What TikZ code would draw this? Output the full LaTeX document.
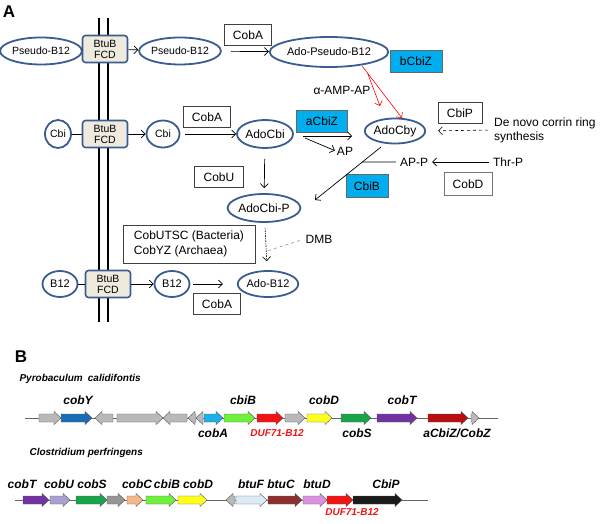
\documentclass[tikz,border=0pt]{standalone}
\usepackage{fontspec}
\setmainfont{Liberation Sans}
\usepackage{tikz}
\usetikzlibrary{shapes.geometric,arrows.meta,calc}

\definecolor{ellblue}{RGB}{58,92,145}
\definecolor{btufill}{RGB}{238,235,222}
\definecolor{cbizblue}{RGB}{0,174,239}
\definecolor{genegray}{RGB}{185,185,185}
\definecolor{genedgray}{RGB}{150,150,150}
\definecolor{cobYblue}{RGB}{27,108,180}
\definecolor{cobAcyan}{RGB}{30,174,232}
\definecolor{cbiBgreen}{RGB}{110,240,60}
\definecolor{dufred}{RGB}{240,20,20}
\definecolor{cobDyellow}{RGB}{255,255,30}
\definecolor{cobSgreen}{RGB}{26,163,74}
\definecolor{cobTpurple}{RGB}{112,51,160}
\definecolor{cbiZred}{RGB}{185,14,14}
\definecolor{cobUlav}{RGB}{169,160,207}
\definecolor{cobCpeach}{RGB}{245,184,138}
\definecolor{btuFblue}{RGB}{220,235,243}
\definecolor{btuCbrown}{RGB}{142,47,47}
\definecolor{btuDpink}{RGB}{221,144,221}
\definecolor{cbiPblack}{RGB}{26,26,26}

\tikzset{
  cpd/.style={ellipse, draw=ellblue, line width=1.8pt, inner sep=0pt, minimum height=27pt},
  smallcpd/.style={cpd, font=\fontsize{10.5}{12}\selectfont},
  btub/.style={rectangle, rounded corners=3pt, draw=ellblue, line width=1.6pt, fill=btufill,
    minimum width=45pt, minimum height=27pt, inner sep=0pt, align=center,
    font=\fontsize{10.5}{11}\selectfont},
  enz/.style={rectangle, draw=black!75, line width=0.6pt, minimum height=21pt, inner sep=2pt},
  cbiz/.style={enz, fill=cbizblue, draw=black!60},
  rxn/.style={->, line width=0.7pt},
  membrane/.style={line width=1.6pt},
  panel/.style={font=\fontsize{17}{17}\selectfont\bfseries},
  species/.style={font=\fontsize{10}{10}\selectfont\bfseries\itshape, anchor=west},
  gene/.style={draw=black!65, line width=0.4pt},
  backbone/.style={draw=black!60, line width=0.7pt},
  glabel/.style={font=\fontsize{12}{12}\selectfont\bfseries\itshape},
  duf/.style={font=\fontsize{10}{10}\selectfont\bfseries\itshape, text=dufred}
}

% gene arrows: start, end, y, colour
\newcommand{\geneR}[4]{\filldraw[gene,fill=#4] (#1,#3-4) -- (#2-7,#3-4) -- (#2-7,#3-6.5) -- (#2,#3) -- (#2-7,#3+6.5) -- (#2-7,#3+4) -- (#1,#3+4) -- cycle;}
\newcommand{\geneL}[4]{\filldraw[gene,fill=#4] (#2,#3-4) -- (#1+7,#3-4) -- (#1+7,#3-6.5) -- (#1,#3) -- (#1+7,#3+6.5) -- (#1+7,#3+4) -- (#2,#3+4) -- cycle;}

\begin{document}
\begin{tikzpicture}[x=1pt, y=-1pt, font=\fontsize{12}{14}\selectfont,
  >={Straight Barb[length=4pt,width=8pt]}]

\useasboundingbox (0,0) rectangle (600,524);

\node at (9,12) [panel] (pA) {A};

\draw[membrane] (99,18) -- (99,322);
\draw[membrane] (108,18) -- (108,322);


\node at (41,51) [smallcpd, minimum width=72pt] (ps1) {Pseudo-B12};
\node at (105,49) [btub] (btu1) {BtuB\\FCD};
\node at (180,51) [smallcpd, minimum width=70pt] (ps2) {Pseudo-B12};
\node at (248,35) [enz, minimum width=47pt] (cobA1) {CobA};
\node at (329,52) [cpd, font=\fontsize{11}{13}\selectfont, minimum width=105pt, minimum height=30pt] (aps) {Ado-Pseudo-B12};
\node at (416,61) [cbiz, minimum width=52pt, minimum height=22pt] (bcbiz) {bCbiZ};
\node at (342,90) (amp) {α-AMP-AP};

\node at (58,134) [smallcpd, minimum width=26pt, minimum height=28pt] (cbi1) {Cbi};
\node at (105,134) [btub] (btu2) {BtuB\\FCD};
\node at (163,134) [smallcpd, minimum width=33pt] (cbi2) {Cbi};
\node at (207,117) [enz, minimum width=47pt] (cobA2) {CobA};
\node at (265,134) [cpd, minimum width=56pt, minimum height=28pt] (adocbi) {AdoCbi};
\node at (322,121) [cbiz, minimum width=51pt, minimum height=22pt] (acbiz) {aCbiZ};
\node at (345,151) [inner sep=1pt] (ap) {AP};
\node at (395,131) [cpd, minimum width=56pt, minimum height=25pt] (adocby) {AdoCby};
\node at (460,113) [enz, minimum width=44pt] (cbip) {CbiP};
\node at (493,130) [anchor=west, align=left, inner sep=1pt, font=\fontsize{12}{14}\selectfont] (denovo) {De novo corrin ring\\synthesis};

\node at (414,162) [inner sep=1pt] (app) {AP-P};
\node at (508,162) [inner sep=1pt] (thrp) {Thr-P};
\node at (367,186) [cbiz, minimum width=42pt, minimum height=23pt] (cbib) {CbiB};
\node at (468,184) [enz, draw=black!55, minimum width=48pt, minimum height=23pt] (cobd) {CobD};
\node at (219,177) [enz, minimum width=49pt] (cobu) {CobU};
\node at (264,208) [cpd, minimum width=62pt, minimum height=28pt] (adocbip) {AdoCbi-P};
\node at (189,244) [enz, minimum width=132pt, minimum height=38pt, align=left, font=\fontsize{12}{15}\selectfont] (cobutsc) {CobUTSC (Bacteria)\\CobYZ (Archaea)};
\node at (319,239) [inner sep=1pt] (dmb) {DMB};

\node at (60,284) [smallcpd, font=\fontsize{11}{13}\selectfont, minimum width=35pt, minimum height=26pt] (b12a) {B12};
\node at (108,284) [btub] (btu3) {BtuB\\FCD};
\node at (172,284) [smallcpd, font=\fontsize{11}{13}\selectfont, minimum width=35pt, minimum height=26pt] (b12b) {B12};
\node at (268,284) [cpd, font=\fontsize{11}{13}\selectfont, minimum width=52pt, minimum height=26pt] (adob12) {Ado-B12};
\node at (217,304) [enz, minimum width=47pt] (cobA3) {CobA};


\draw[line width=0.7pt] (ps1) -- (btu1);
\draw[rxn] (btu1) -- (ps2);
\draw[rxn, shorten <=9pt] (ps2) -- (aps);

\coordinate (rs) at ($(aps.south)+(33,-2)$);
\coordinate (rt) at (380,106);
\draw[rxn, red, line width=0.6pt] (rs) -- (adocby.62);
\draw[rxn, red, line width=0.6pt] ($(rs)!0.14!(adocby.62)$) -- (rt);

\draw[->, dashed, line width=0.6pt, shorten <=5pt, shorten >=12pt] (denovo.west) -- (adocby.east);

\draw[line width=0.7pt] (cbi1) -- (btu2);
\draw[rxn] (btu2) -- (cbi2);
\draw[rxn, shorten <=5pt] (cbi2) -- (adocbi);

\coordinate (zs) at (303,136);
\coordinate (ze) at (352,136);
\draw[rxn] (zs) -- (ze);
\draw[rxn, shorten >=1pt] ($(zs)+(2,2)$) -- (ap.west);

\coordinate (cbst) at (381,147);
\coordinate (cbend) at (315,200);
\draw[rxn] (cbst) -- (cbend);
\draw[line width=0.7pt, shorten <=3pt] (app.west) -- ($(cbst)!0.283!(cbend)$);
\draw[rxn, shorten <=3pt, shorten >=3pt] (thrp) -- (app);

\draw[rxn, shorten <=10pt, shorten >=5pt] (adocbi) -- (adocbip);
\draw[->, line width=0.6pt, dash pattern=on 1.5pt off 1pt, shorten <=5pt, shorten >=9pt] (adocbip) -- (adob12);
\coordinate (dmbj) at (267,251);
\draw[dashed, gray, line width=0.5pt, shorten <=5pt] (dmb.west) -- (dmbj);

\draw[line width=0.7pt] (b12a) -- (btu3);
\draw[rxn] (btu3) -- (b12b);
\draw[rxn, shorten <=3pt, shorten >=14pt] (b12b) -- (adob12);


\node at (21,357) [panel] (pB) {B};
\node at (16,379) [species] (sp1) {Pyrobaculum\enspace calidifontis};

\draw[backbone] (25,418) -- (498,418);
\geneR{39}{61}{418}{genegray}
\geneR{61}{92}{418}{cobYblue}
\geneL{95}{113}{418}{genegray}
\geneR{117}{163}{418}{genegray}
\geneL{163}{187}{418}{genegray}
\geneL{188}{196}{418}{genegray}
\geneL{196}{203}{418}{genegray}
\geneR{204}{223}{418}{cobAcyan}
\geneR{224}{255}{418}{cbiBgreen}
\geneR{257}{283}{418}{dufred}
\geneR{285}{305}{418}{genegray}
\geneR{307}{332}{418}{cobDyellow}
\geneR{341}{371}{418}{cobSgreen}
\geneR{377}{417}{418}{cobTpurple}
\geneR{428}{468}{418}{cbiZred}
\geneR{471}{479}{418}{genegray}

\node at (78,400) [glabel] (g1) {cobY};
\node at (243,400) [glabel] (g2) {cbiB};
\node at (324,400) [glabel] (g3) {cobD};
\node at (402,400) [glabel] (g4) {cobT};
\node at (213,433) [glabel] (g5) {cobA};
\node at (277,433) [duf] (g6) {DUF71-B12};
\node at (357,433) [glabel] (g7) {cobS};
\node at (457,433) [glabel] (g8) {aCbiZ/CobZ};

\node at (26,453) [species] (sp2) {Clostridium perfringens};

\draw[backbone] (15,500) -- (428,500);
\geneR{23}{49}{500}{cobTpurple}
\geneR{50}{70}{500}{cobUlav}
\geneR{76}{107}{500}{cobSgreen}
\geneR{107}{125}{500}{genedgray}
\geneR{127}{143}{500}{cobCpeach}
\geneR{146}{176}{500}{cbiBgreen}
\geneR{178}{207}{500}{cobDyellow}
\geneL{226}{235}{500}{genegray}
\geneR{236}{267}{500}{btuFblue}
\geneR{268}{302}{500}{btuCbrown}
\geneR{303}{327}{500}{btuDpink}
\geneR{327}{353}{500}{dufred}
\geneR{353}{402}{500}{cbiPblack}

\node at (22,484) [glabel] (h1) {cobT};
\node at (59,484) [glabel] (h2) {cobU};
\node at (92,484) [glabel] (h3) {cobS};
\node at (137,484) [glabel] (h4) {cobC};
\node at (167,484) [glabel] (h5) {cbiB};
\node at (198,484) [glabel] (h6) {cobD};
\node at (251,484) [glabel] (h7) {btuF};
\node at (281,484) [glabel] (h8) {btuC};
\node at (317,484) [glabel] (h9) {btuD};
\node at (386,484) [glabel] (h10) {CbiP};
\node at (352,512) [duf] (h11) {DUF71-B12};

\end{tikzpicture}
\end{document}
